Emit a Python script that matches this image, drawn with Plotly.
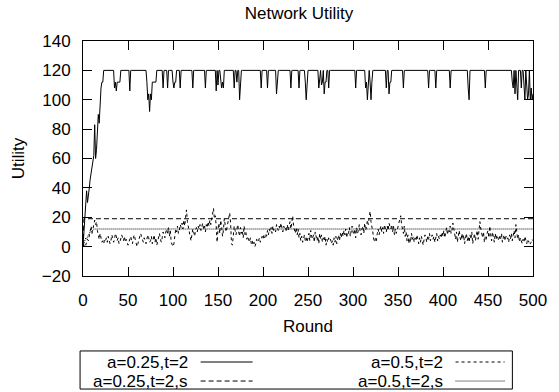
import plotly.graph_objects as go

# Rounds 0..500
rounds = list(range(501))

# a=0.25,t=2 : utility per round
util_a025_t2 = [
    0, 8, 20, 28, 38, 30, 34, 40, 46, 50, 55, 58, 62, 83, 60, 66, 82, 90, 84, 98, 108, 112, 112, 120, 120,
    120, 120, 120, 120, 120, 120, 120, 120, 120, 120, 108, 112, 106, 112, 112, 112, 112, 120, 120, 120, 120, 120, 120, 120, 120,
    120, 120, 106, 120, 120, 120, 120, 120, 120, 120, 120, 120, 120, 120, 120, 120, 120, 120, 120, 120, 120, 112, 100, 104, 92,
    104, 100, 112, 112, 112, 112, 112, 120, 120, 120, 120, 120, 120, 120, 108, 120, 120, 120, 120, 108, 120, 120, 120, 120, 120,
    112, 108, 112, 112, 120, 120, 120, 120, 108, 120, 120, 120, 120, 120, 120, 120, 120, 120, 120, 120, 120, 120, 108, 120, 120,
    120, 120, 120, 120, 120, 120, 120, 120, 120, 120, 120, 108, 120, 120, 120, 120, 120, 120, 120, 120, 120, 120, 120, 106, 120,
    110, 120, 120, 112, 108, 112, 108, 120, 120, 120, 120, 120, 120, 120, 120, 120, 120, 120, 108, 120, 120, 112, 120, 120, 100,
    110, 120, 120, 120, 120, 120, 120, 120, 120, 120, 120, 120, 120, 120, 120, 120, 120, 120, 120, 120, 120, 120, 120, 108, 120,
    120, 120, 120, 120, 120, 108, 120, 120, 120, 120, 120, 120, 120, 120, 120, 104, 112, 120, 120, 120, 120, 120, 120, 120, 120,
    120, 120, 120, 120, 120, 120, 108, 120, 120, 120, 120, 120, 120, 120, 120, 108, 120, 120, 120, 120, 120, 120, 112, 100, 110,
    120, 120, 120, 120, 120, 120, 120, 120, 120, 120, 120, 120, 108, 116, 120, 110, 112, 120, 104, 112, 112, 120, 120, 108, 120,
    120, 120, 120, 120, 120, 120, 120, 120, 120, 120, 120, 120, 120, 120, 120, 120, 120, 120, 120, 120, 120, 120, 120, 120, 120,
    120, 120, 120, 108, 120, 120, 120, 120, 120, 120, 120, 120, 120, 120, 108, 112, 100, 116, 120, 112, 100, 112, 120, 120, 120,
    120, 120, 120, 120, 120, 120, 120, 120, 120, 120, 120, 120, 108, 120, 120, 104, 112, 112, 120, 120, 120, 120, 120, 120, 120,
    120, 120, 120, 120, 120, 120, 108, 120, 120, 120, 120, 120, 120, 120, 120, 120, 120, 120, 120, 120, 120, 120, 120, 120, 120,
    120, 120, 120, 120, 120, 120, 120, 120, 120, 108, 120, 120, 120, 120, 120, 120, 120, 108, 120, 120, 120, 120, 120, 120, 120,
    120, 120, 120, 120, 120, 120, 120, 120, 108, 120, 120, 120, 120, 120, 120, 120, 120, 120, 120, 120, 120, 120, 120, 120, 120,
    120, 120, 120, 108, 100, 120, 120, 120, 120, 120, 120, 120, 120, 120, 120, 120, 120, 120, 120, 120, 120, 120, 108, 120, 120,
    120, 120, 120, 120, 120, 120, 120, 120, 120, 120, 120, 120, 120, 120, 120, 120, 120, 120, 120, 120, 120, 120, 120, 120, 120,
    120, 120, 112, 108, 120, 104, 120, 112, 100, 120, 120, 120, 108, 120, 120, 104, 100, 120, 108, 100, 104, 120, 100, 108, 100,
    104,
]

# a=0.5,t=2 : utility per round
util_a05_t2 = [
    1, 0, 2, 1, 3, 5, 4, 7, 10, 14, 9, 12, 16, 18, 15, 17, 11, 8, 5, 9, 6, 3, 4, 2, 5,
    4, 6, 3, 7, 5, 2, 4, 8, 6, 3, 5, 9, 7, 4, 6, 2, 3, 5, 8, 6, 4, 7, 3, 5, 2,
    1, 3, 5, 7, 4, 2, 6, 8, 5, 3, 0, 2, 4, 6, 9, 7, 5, 3, 6, 4, 2, 5, 8, 6, 3,
    4, 7, 2, 5, 8, 3, 6, 1, 4, 7, 9, 5, 3, 6, 10, 8, 6, 10, 12, 9, 13, 7, 11, 3, 1,
    0, 2, 8, 12, 10, 14, 9, 11, 15, 13, 16, 12, 18, 14, 20, 25, 17, 13, 9, 5, 4, 8, 12, 10, 7,
    11, 13, 10, 14, 12, 15, 11, 13, 16, 12, 14, 10, 15, 13, 17, 14, 18, 15, 20, 22, 26, 19, 21, 14, 3,
    12, 16, 9, 18, 14, 7, 11, 19, 15, 10, 13, 17, 20, 23, 16, 2, 1, 9, 14, 11, 8, 12, 15, 10, 7,
    13, 9, 11, 6, 14, 8, 10, 5, 7, 4, 3, 6, 2, 4, 1, 3, 0, 2, 5, 3, 4, 6, 3, 5, 7,
    5, 8, 6, 9, 7, 11, 8, 12, 10, 13, 9, 14, 11, 12, 10, 15, 13, 11, 14, 12, 16, 13, 10, 14, 12,
    13, 10, 15, 11, 14, 17, 12, 16, 21, 14, 11, 9, 13, 8, 12, 6, 9, 4, 7, 3, 5, 8, 4, 6, 3,
    6, 9, 4, 11, 7, 5, 8, 3, 10, 6, 4, 7, 2, 9, 5, 8, 3, 6, 4, 7, 1, 5, 3, 6, 4,
    5, 2, 4, 1, 6, 3, 7, 2, 5, 8, 4, 9, 6, 10, 7, 11, 8, 12, 6, 10, 9, 13, 7, 11, 14,
    10, 8, 12, 6, 13, 9, 11, 15, 10, 8, 12, 14, 9, 16, 11, 13, 18, 15, 20, 24, 17, 14, 10, 5, 3,
    6, 4, 9, 12, 8, 11, 14, 10, 13, 9, 15, 12, 10, 14, 11, 16, 13, 12, 15, 10, 14, 8, 12, 9, 11,
    13, 16, 19, 21, 15, 12, 9, 14, 7, 10, 4, 8, 2, 6, 3, 9, 5, 7, 3, 6, 4, 8, 5, 2, 6,
    3, 7, 4, 1, 5, 8, 6, 3, 7, 5, 9, 4, 6, 8, 5, 7, 3, 6, 9, 4, 7, 5, 8, 6, 10,
    7, 11, 6, 9, 13, 8, 12, 10, 14, 9, 11, 16, 12, 8, 5, 10, 3, 7, 11, 6, 4, 9, 5, 8, 2,
    6, 9, 4, 7, 3, 8, 5, 10, 2, 6, 9, 4, 7, 11, 5, 13, 17, 12, 8, 6, 10, 3, 7, 5, 9,
    11, 6, 14, 8, 4, 10, 7, 3, 9, 5, 8, 6, 4, 7, 5, 9, 3, 6, 8, 4, 7, 5, 6, 3, 8,
    5, 9, 4, 7, 11, 6, 15, 10, 5, 8, 3, 6, 4, 2, 5, 3, 7, 4, 2, 5, 3, 4, 2, 3, 5,
    4,
]

# a=0.25,t=2,s : settles immediately at a constant level
util_a025_t2_s = [0] + [19] * 500

# a=0.5,t=2,s : short warm-up, then constant
util_a05_t2_s = [0, 2, 4, 6, 5, 7, 8, 9, 10, 10, 11, 11] + [12] * 489

series_names = ["a=0.25,t=2", "a=0.5,t=2", "a=0.25,t=2,s", "a=0.5,t=2,s"]
series_values = [util_a025_t2, util_a05_t2, util_a025_t2_s, util_a05_t2_s]
series_dash = ["solid", "3px,3px", "5px,3px", "1px,1px"]

x_ticks = list(range(0, 501, 50))
y_ticks = list(range(-20, 141, 20))

FONT = "Liberation Sans, Arial, Helvetica, sans-serif"
FS = 17

fig = go.Figure()
for name, vals, dash in zip(series_names, series_values, series_dash):
    fig.add_trace(go.Scatter(
        x=rounds, y=vals, mode="lines", name=name, showlegend=False,
        line=dict(color="black", width=1, dash=dash),
    ))

# Legend box below the plot: label right-aligned, line sample to its right
shapes = [dict(type="rect", xref="paper", yref="paper",
               x0=-0.0065, x1=0.9542, y0=-0.481, y1=-0.319,
               line=dict(color="black", width=1), fillcolor="rgba(0,0,0,0)")]
annotations = []
legend_slots = [
    (0.2368, 0.2614, 0.3769, -0.366),
    (0.8039, 0.8279, 0.9368, -0.366),
    (0.2368, 0.2614, 0.3769, -0.447),
    (0.8039, 0.8279, 0.9368, -0.447),
]
for (tx, sx0, sx1, ry), name, dash in zip(legend_slots, series_names, series_dash):
    annotations.append(dict(
        xref="paper", yref="paper", x=tx, y=ry, text=name, showarrow=False,
        xanchor="right", yanchor="middle", font=dict(family=FONT, size=FS, color="black"),
    ))
    shapes.append(dict(
        type="line", xref="paper", yref="paper", x0=sx0, x1=sx1, y0=ry, y1=ry,
        line=dict(color="black", width=1, dash=dash),
    ))

axis_common = dict(
    showline=True, linecolor="black", linewidth=1, mirror="ticks",
    ticks="inside", ticklen=9, tickwidth=1, tickcolor="black",
    showgrid=False, zeroline=False,
    tickfont=dict(family=FONT, size=FS, color="black"),
)

fig.update_layout(
    width=559, height=392,
    margin=dict(l=83, r=17, t=41, b=116),
    paper_bgcolor="white", plot_bgcolor="white",
    font=dict(family=FONT, size=FS, color="black"),
    title=dict(text="Network Utility", x=299 / 559, xanchor="center",
               y=1 - 13 / 392, yanchor="middle", font=dict(family=FONT, size=FS)),
    xaxis=dict(range=[0, 500], tickvals=x_ticks, ticklabelstandoff=9,
               title=dict(text="Round", standoff=10, font=dict(family=FONT, size=FS)),
               **axis_common),
    yaxis=dict(range=[-20, 140], tickvals=y_ticks, ticklabelstandoff=8,
               title=dict(text="Utility", standoff=12, font=dict(family=FONT, size=FS)),
               **axis_common),
    shapes=shapes,
    annotations=annotations,
)

fig.write_html("out.html")
